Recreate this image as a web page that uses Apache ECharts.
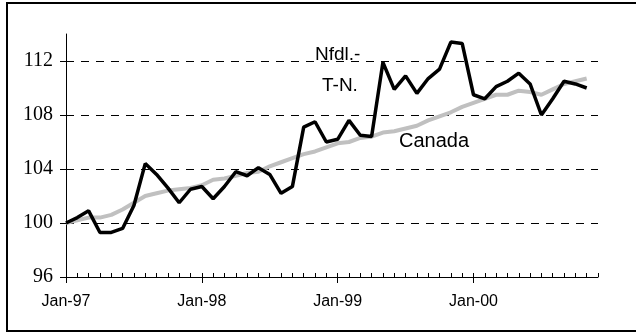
<!DOCTYPE html>
<html>
<head>
<meta charset="utf-8">
<script src="https://cdn.jsdelivr.net/npm/echarts@6/dist/echarts.min.js"></script>
<style>
  html, body { margin: 0; padding: 0; background: #fff; }
  #chart { width: 636px; height: 332px; }
</style>
</head>
<body>
<div id="chart"></div>
<script>
// months on the axis: Jan-97 .. Dec-00
const monthNames = ['Jan', 'Feb', 'Mar', 'Apr', 'May', 'Jun', 'Jul', 'Aug', 'Sep', 'Oct', 'Nov', 'Dec'];
const years = ['97', '98', '99', '00'];
const categories = [];
years.forEach(y => monthNames.forEach(m => categories.push(m + '-' + y)));

// index, Jan-97 = 100 (Jan-97 .. Nov-00)
const nfld = [
  100.0, 100.4, 100.9, 99.3, 99.3, 99.6, 101.3, 104.4, 103.6, 102.6, 101.5, 102.5,
  102.7, 101.8, 102.7, 103.8, 103.5, 104.1, 103.6, 102.2, 102.7, 107.1, 107.5, 106.0,
  106.2, 107.6, 106.5, 106.4, 111.9, 109.9, 110.9, 109.6, 110.7, 111.4, 113.4, 113.3,
  109.5, 109.2, 110.1, 110.5, 111.1, 110.3, 108.0, 109.2, 110.5, 110.3, 110.0
];
const canada = [
  100.0, 100.2, 100.4, 100.4, 100.6, 101.0, 101.5, 102.0, 102.2, 102.4, 102.5, 102.6,
  102.8, 103.2, 103.3, 103.5, 103.7, 103.8, 104.2, 104.5, 104.8, 105.1, 105.3, 105.6,
  105.9, 106.0, 106.3, 106.4, 106.7, 106.8, 107.0, 107.2, 107.6, 107.9, 108.2, 108.6,
  108.9, 109.2, 109.5, 109.5, 109.8, 109.7, 109.5, 109.9, 110.3, 110.5, 110.7
];
const yTicks = [96, 100, 104, 108, 112];

const chart = echarts.init(document.getElementById('chart'));

const option = {
  backgroundColor: '#fff',
  animation: false,
  grid: { left: 66, top: 34, width: 532, height: 243 },
  xAxis: [
    {
      type: 'category',
      data: categories,
      boundaryGap: false,
      position: 'bottom',
      axisLine: { lineStyle: { color: '#000', width: 1 } },
      axisTick: { inside: true, length: 4, interval: 0, lineStyle: { color: '#000' } },
      axisLabel: { show: false },
      splitLine: { show: false }
    },
    {
      type: 'category',
      data: categories,
      boundaryGap: false,
      position: 'bottom',
      axisLine: { show: false },
      axisTick: { inside: false, length: 6, interval: 11, lineStyle: { color: '#000' } },
      axisLabel: {
        interval: 11,
        margin: 17,
        color: '#000',
        fontFamily: 'Liberation Sans',
        fontSize: 16
      },
      splitLine: { show: false }
    }
  ],
  yAxis: {
    type: 'value',
    min: 96,
    max: 114,
    interval: 4,
    axisLine: { show: true, lineStyle: { color: '#000', width: 1 } },
    axisTick: { show: true, length: 6, customValues: yTicks, lineStyle: { color: '#000' } },
    axisLabel: {
      customValues: yTicks,
      margin: 13,
      color: '#000',
      fontFamily: 'Liberation Serif',
      fontSize: 20
    },
    splitLine: {
      show: true,
      showMinLine: false,
      lineStyle: { color: '#000', width: 1, type: [8, 7] }
    }
  },
  series: [
    {
      name: 'Canada',
      type: 'line',
      data: canada,
      showSymbol: false,
      z: 2,
      lineStyle: { color: '#c0c0c0', width: 4 }
    },
    {
      name: 'Nfdl.- T-N.',
      type: 'line',
      data: nfld,
      showSymbol: false,
      z: 3,
      lineStyle: { color: '#000', width: 3.5 }
    }
  ],
  graphic: [
    {
      type: 'rect',
      shape: { x: 7, y: 3, width: 640, height: 328 },
      style: { fill: 'none', stroke: '#000', lineWidth: 2 },
      z: 0
    },
    {
      type: 'text', left: 315, top: 45,
      style: { text: 'Nfdl.-', font: '19px "Liberation Sans"', fill: '#000' }
    },
    {
      type: 'text', left: 322, top: 76,
      style: { text: 'T-N.', font: '19px "Liberation Sans"', fill: '#000' }
    },
    {
      type: 'text', left: 399, top: 131,
      style: { text: 'Canada', font: '20px "Liberation Sans"', fill: '#000' }
    }
  ]
};

chart.setOption(option);
</script>
</body>
</html>
